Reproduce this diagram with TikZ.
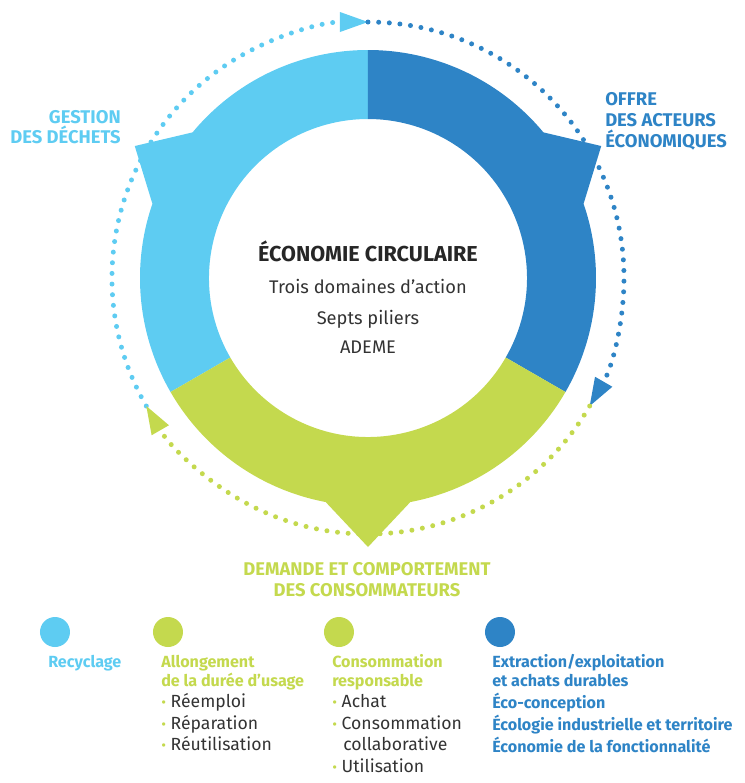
\documentclass[tikz,border=0pt]{standalone}
\usepackage{fontspec}
\setmainfont{Fira Sans}
\usetikzlibrary{arrows.meta}
\definecolor{bleuclair}{RGB}{94,204,242}
\definecolor{bleufonce}{RGB}{46,132,198}
\definecolor{vert}{RGB}{196,217,78}
\definecolor{gristxt}{RGB}{51,51,51}
\newcommand{\puce}{{\color{vert}\fontsize{11}{11}\selectfont•}\ }
\tikzset{
  pointille/.style={line width=3.75pt, line cap=round, dash pattern=on 0pt off 8pt,
    -{Triangle[length=21pt,width=15pt,line width=0pt]}},
  titre/.style={font=\fontsize{13.8}{15}\selectfont\bfseries, inner sep=0pt},
  centre/.style={font=\fontsize{13.7}{17}\selectfont, text=gristxt, anchor=base, inner sep=0pt},
  legb/.style={font=\fontsize{12.1}{15}\selectfont\bfseries, anchor=base west, inner sep=0pt},
  leg/.style={font=\fontsize{13.2}{15}\selectfont, text=gristxt, anchor=base west, inner sep=0pt}
}
\begin{document}
\begin{tikzpicture}[x=0.75pt,y=0.75pt]
   \useasboundingbox (-368,-505) rectangle (376,278);
   % les trois secteurs de l'anneau
   \fill[bleuclair] (90:228) arc[start angle=90,end angle=140.3,radius=228] -- (150.5:268) -- (161:228)
      arc[start angle=161,end angle=210,radius=228] -- (210:159) arc[start angle=210,end angle=90,radius=159] -- cycle;
   \fill[bleufonce] (90:228) arc[start angle=90,end angle=39.7,radius=228] -- (29.5:268) -- (19:228)
      arc[start angle=19,end angle=-30,radius=228] -- (-30:159) arc[start angle=-30,end angle=90,radius=159] -- cycle;
   \fill[vert] (210:228) arc[start angle=210,end angle=259.3,radius=228] -- (270:269) -- (280.7:228)
      arc[start angle=280.7,end angle=330,radius=228] -- (330:159) arc[start angle=330,end angle=210,radius=159] -- cycle;
   % cycle en pointilles
   \coordinate (haut) at (90:256);
   \coordinate (droite) at (-30:256);
   \coordinate (gauche) at (210:256);
   \draw[pointille,bleuclair] (gauche) arc[start angle=210,end angle=90,radius=256];
   \draw[pointille,bleufonce] (haut) arc[start angle=90,end angle=-30,radius=256];
   \draw[pointille,vert] (droite) arc[start angle=330,end angle=210,radius=256];
   % texte central
   \node[centre, font=\fontsize{16.2}{17}\selectfont\bfseries, text=black!85] (eco) at (0,17) {ÉCONOMIE CIRCULAIRE};
   \node[centre] (trois) at (0,-15) {Trois domaines d’action};
   \node[centre] (septs) at (0,-46) {Septs piliers};
   \node[centre] (ademe) at (0,-75) {ADEME};
   % etiquettes
   \node[titre, text=bleuclair, anchor=base east] (gest1) at (-247,155) {GESTION};
   \node[titre, text=bleuclair, anchor=base east] (gest2) at (-247,135) {DES DÉCHETS};
   \node[titre, text=bleufonce, anchor=base west] (offre1) at (237,173) {OFFRE};
   \node[titre, text=bleufonce, anchor=base west] (offre2) at (237,152) {DES ACTEURS};
   \node[titre, text=bleufonce, anchor=base west] (offre3) at (237,131) {ÉCONOMIQUES};
   \node[titre, text=vert, anchor=base] (dem1) at (-1,-297) {DEMANDE ET COMPORTEMENT};
   \node[titre, text=vert, anchor=base] (dem2) at (-1,-318) {DES CONSOMMATEURS};
   % legende
   \fill[bleuclair] (-313,-354) circle (15);
   \fill[vert] (-200,-354) circle (15);
   \fill[vert] (-29,-354) circle (15);
   \fill[bleufonce] (132,-354) circle (15);
   \node[legb, text=bleuclair] (recy) at (-320,-389) {Recyclage};
   \node[legb, text=vert] (allo1) at (-207,-389) {Allongement};
   \node[legb, text=vert] (allo2) at (-207,-408) {de la durée d’usage};
   \node[leg] (reem) at (-207,-429) {\puce Réemploi};
   \node[leg] (repa) at (-207,-451) {\puce Réparation};
   \node[leg] (reut) at (-207,-472) {\puce Réutilisation};
   \node[legb, text=vert] (cons1) at (-36,-389) {Consommation};
   \node[legb, text=vert] (cons2) at (-36,-408) {responsable};
   \node[leg] (acha) at (-36,-429) {\puce Achat};
   \node[leg] (coll1) at (-36,-451) {\puce Consommation};
   \node[leg] (coll2) at (-25,-472) {collaborative};
   \node[leg] (util) at (-36,-494) {\puce Utilisation};
   \node[legb, text=bleufonce] (extr1) at (124,-389) {Extraction/exploitation};
   \node[legb, text=bleufonce] (extr2) at (124,-408) {et achats durables};
   \node[legb, text=bleufonce] (ecoc) at (124,-430) {Éco-conception};
   \node[legb, text=bleufonce] (ecol) at (124,-452) {Écologie industrielle et territoire};
   \node[legb, text=bleufonce] (econ) at (124,-474) {Économie de la fonctionnalité};
\end{tikzpicture}
\end{document}
